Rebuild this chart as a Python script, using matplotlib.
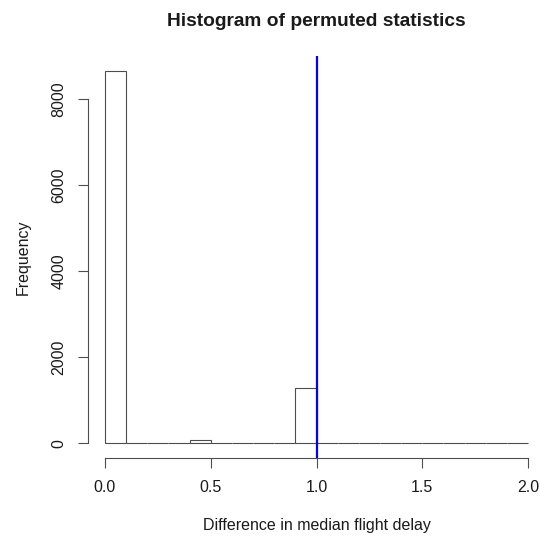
import matplotlib
matplotlib.use("Agg")
import matplotlib.pyplot as plt
import numpy as np

plt.rcParams['font.family'] = ['Liberation Sans', 'DejaVu Sans']

# Histogram bins (width 0.1 from 0 to 2) and permutation counts
bin_edges = [round(0.1 * i, 1) for i in range(21)]
counts = [8650, 0, 0, 0, 70, 0, 0, 0, 0, 1280,
          0, 0, 0, 0, 0, 0, 0, 0, 0, 0]
observed = 1.0

x_ticks = [0.0, 0.5, 1.0, 1.5, 2.0]
x_tick_labels = ["0.0", "0.5", "1.0", "1.5", "2.0"]
y_ticks = [0, 2000, 4000, 6000, 8000]

fig = plt.figure(figsize=(5.40, 5.38), dpi=100)
ax = fig.add_axes([88 / 540, (538 - 458) / 538, 457 / 540, (458 - 56) / 538])

lefts = bin_edges[:-1]
widths = [b - a for a, b in zip(bin_edges[:-1], bin_edges[1:])]
ax.bar(lefts, counts, width=widths, align='edge', facecolor='white',
       edgecolor='#4d4d4d', linewidth=0.8)

ax.axvline(observed, color='#0000ff', linewidth=1.6)

xr = bin_edges[-1] - bin_edges[0]
ax.set_xlim(bin_edges[0] - 0.04 * xr, bin_edges[-1] + 0.04 * xr)
ymax = max(counts)
ax.set_ylim(-0.04 * ymax, ymax * 1.04)

for s in ['top', 'right']:
    ax.spines[s].set_visible(False)
ax.spines['left'].set_bounds(y_ticks[0], y_ticks[-1])
ax.spines['bottom'].set_bounds(x_ticks[0], x_ticks[-1])
for s in ['left', 'bottom']:
    ax.spines[s].set_color('#4d4d4d')
    ax.spines[s].set_linewidth(0.8)

ax.set_xticks(x_ticks)
ax.set_xticklabels(x_tick_labels)
ax.set_yticks(y_ticks)
ax.set_yticklabels([str(v) for v in y_ticks], rotation=90, va='center')
ax.tick_params(axis='both', direction='out', length=7.5, width=0.8,
               color='#4d4d4d', labelsize=11.5, labelcolor='#1a1a1a', pad=8)

ax.set_xlabel("Difference in median flight delay", fontsize=11.5,
              color='#1a1a1a', labelpad=17)
ax.set_ylabel("Frequency", fontsize=11.5, color='#1a1a1a', labelpad=15)

fig.text(316.5 / 540, 1 - 22 / 538, "Histogram of permuted statistics",
         ha='center', va='center', fontsize=13.8, fontweight='bold',
         color='#1a1a1a')

fig.savefig("out.png", dpi=100)
